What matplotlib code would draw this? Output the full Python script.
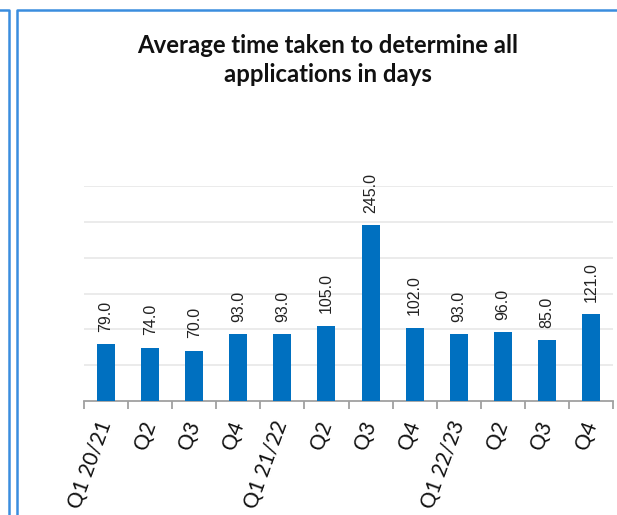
import matplotlib
matplotlib.use('Agg')
from matplotlib import pyplot as plt
from matplotlib.lines import Line2D
import numpy

quarters = ['Q1 20/21', 'Q2', 'Q3', 'Q4',
            'Q1 21/22', 'Q2', 'Q3', 'Q4',
            'Q1 22/23', 'Q2', 'Q3', 'Q4']
avg_days = [79.0, 74.0, 70.0, 93.0, 93.0, 105.0, 245.0, 102.0, 93.0, 96.0, 85.0, 121.0]

W, H = 617, 515
BLUE = '#0070C0'
FRAME = '#3A8DDE'


def main():
    fig = plt.figure(figsize=(W / 100, H / 100), dpi=100)
    ax = fig.add_axes([84 / W, 1 - 401 / H, (613 - 84) / W, (401 - 186) / H])

    x = numpy.arange(len(avg_days))
    bars = ax.bar(x, avg_days, width=0.41, color=BLUE, zorder=3)

    for rect, v in zip(bars, avg_days):
        ax.annotate('%.1f' % v, (rect.get_x() + rect.get_width() / 2, rect.get_height()),
                    xytext=(0, 9), textcoords='offset points', rotation=90,
                    ha='center', va='bottom', fontsize=11.5, family='Liberation Sans',
                    color='#222222')

    ax.set_xlim(-0.5, len(avg_days) - 0.5)
    ax.set_ylim(0, 300)
    ax.set_yticks(numpy.arange(50, 301, 50))
    ax.yaxis.grid(True, color='#E8E8E8', linewidth=1.2, zorder=0)
    ax.tick_params(axis='y', length=0, labelleft=False)

    for side in ['left', 'right', 'top']:
        ax.spines[side].set_visible(False)
    ax.spines['bottom'].set_color('#A0A0A0')
    ax.spines['bottom'].set_linewidth(1.3)

    ax.set_xticks(x)
    ax.set_xticks(numpy.arange(-0.5, len(avg_days), 1.0), minor=True)
    ax.tick_params(axis='x', which='major', length=0, pad=15)
    ax.tick_params(axis='x', which='minor', length=6, width=1.3, color='#A0A0A0')
    ax.set_xticklabels(quarters, rotation=70, ha='right', va='center',
                       rotation_mode='anchor', fontsize=15, family='Lato', color='#111111')

    fig.text(0.531, 1 - 60 / H, 'Average time taken to determine all\napplications in days',
             ha='center', va='center', fontsize=17.2, fontweight='bold', family='Lato',
             linespacing=1.33, color='#111111')

    # frame borders
    fig.add_artist(Line2D([0, 9 / W, 9 / W], [1 - 10 / H, 1 - 10 / H, 0],
                          color=FRAME, linewidth=1.8, transform=fig.transFigure))
    fig.add_artist(Line2D([17 / W, 17 / W, 1], [0, 1 - 10 / H, 1 - 10 / H],
                          color=FRAME, linewidth=1.8, transform=fig.transFigure))

    fig.savefig('out.png', dpi=100)


if __name__ == '__main__':
    main()
